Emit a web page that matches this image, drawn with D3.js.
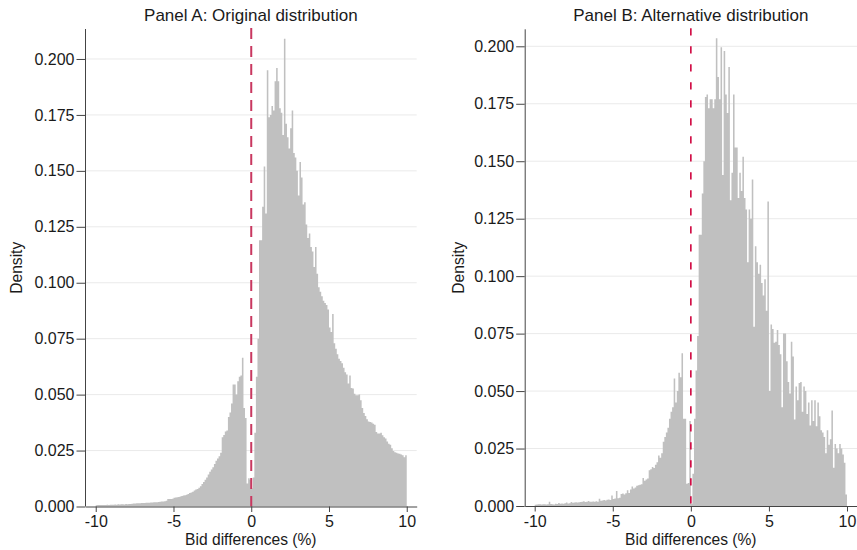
<!DOCTYPE html>
<html>
<head>
<meta charset="utf-8">
<script src="https://cdn.jsdelivr.net/npm/d3@7"></script>
<style>
  body { margin: 0; background: #fff; }
  svg { display: block; font-family: "Liberation Sans", Arial, Helvetica, sans-serif; }
</style>
</head>
<body>
<script>
// Histogram densities, bins of width 0.1 from -10 to 10 (200 bins each)
var densityA = [
  // -10 .. -0.1
  0.0006,0.0007,0.0007,0.0007,0.0007,0.0007,0.0007,0.0008,0.0007,0.0008,
  0.0008,0.0008,0.0009,0.0008,0.0010,0.0009,0.0010,0.0010,0.0009,0.0011,
  0.0010,0.0011,0.0011,0.0012,0.0013,0.0013,0.0014,0.0014,0.0015,0.0016,
  0.0016,0.0016,0.0017,0.0017,0.0017,0.0018,0.0018,0.0019,0.0019,0.0019,
  0.0020,0.0021,0.0022,0.0022,0.0024,0.0026,0.0034,0.0033,0.0033,0.0035,
  0.0039,0.0040,0.0041,0.0042,0.0045,0.0047,0.0049,0.0050,0.0052,0.0056,
  0.0060,0.0063,0.0066,0.0072,0.0076,0.0078,0.0084,0.0090,0.0100,0.0110,
  0.0120,0.0130,0.0143,0.0155,0.0165,0.0175,0.0190,0.0205,0.0215,0.0225,
  0.0240,0.0310,0.0320,0.0335,0.0340,0.0400,0.0420,0.0460,0.0545,0.0545,
  0.0500,0.0560,0.0580,0.0585,0.0665,0.0440,0.0395,0.0103,0.0126,0.0120,
  // 0 .. 9.9
  0.008,0.013,0.033,0.058,0.075,0.119,0.119,0.134,0.152,0.131,
  0.195,0.174,0.175,0.179,0.177,0.190,0.196,0.190,0.178,0.176,
  0.166,0.209,0.171,0.165,0.160,0.169,0.177,0.158,0.156,0.150,
  0.139,0.154,0.147,0.135,0.136,0.126,0.120,0.122,0.116,0.114,
  0.107,0.116,0.104,0.098,0.096,0.094,0.092,0.091,0.090,0.088,
  0.080,0.078,0.086,0.073,0.0705,0.068,0.066,0.065,0.064,0.062,
  0.060,0.059,0.055,0.0586,0.053,0.0527,0.0504,0.0497,0.0497,0.050,
  0.0475,0.044,0.0418,0.0405,0.039,0.038,0.0378,0.0375,0.037,0.0365,
  0.0333,0.0326,0.0326,0.033,0.0318,0.031,0.0304,0.029,0.028,0.0276,
  0.026,0.0248,0.0242,0.024,0.0237,0.0236,0.0232,0.0229,0.022,0.0229
];

var densityB = [
  // -10 .. -0.1
  0.0005,0.0007,0.0008,0.0008,0.0007,0.0008,0.0008,0.0007,0.0008,0.0018,
  0.0009,0.0008,0.0007,0.0010,0.0009,0.0013,0.0010,0.0011,0.0010,0.0012,
  0.0015,0.0011,0.0012,0.0017,0.0014,0.0015,0.0016,0.0015,0.0016,0.0017,
  0.0018,0.0021,0.0017,0.0019,0.0022,0.0018,0.0019,0.0020,0.0019,0.0021,
  0.0018,0.0032,0.0023,0.0024,0.0026,0.0024,0.0027,0.0028,0.0026,0.0046,
  0.0030,0.0033,0.0065,0.0034,0.0036,0.0052,0.0054,0.0050,0.0055,0.0068,
  0.0057,0.0072,0.0085,0.0076,0.0080,0.0088,0.0090,0.0092,0.0095,0.0122,
  0.0110,0.0115,0.0120,0.0155,0.0160,0.0170,0.0165,0.0180,0.0190,0.0220,
  0.0210,0.0230,0.0280,0.0300,0.0320,0.0340,0.0380,0.0410,0.0430,0.0555,
  0.0450,0.0500,0.0580,0.0560,0.0665,0.0380,0.0380,0.0097,0.0100,0.0370,
  // 0 .. 9.9
  0.001,0.014,0.038,0.059,0.074,0.118,0.118,0.136,0.150,0.178,
  0.179,0.173,0.177,0.177,0.173,0.177,0.2035,0.1866,0.177,0.1996,
  0.144,0.198,0.179,0.171,0.191,0.133,0.145,0.179,0.156,0.156,
  0.134,0.145,0.137,0.152,0.134,0.129,0.106,0.129,0.125,0.142,
  0.078,0.113,0.106,0.101,0.105,0.097,0.0916,0.0986,0.085,0.1325,
  0.050,0.079,0.077,0.071,0.0715,0.0766,0.070,0.066,0.043,0.075,
  0.075,0.063,0.054,0.049,0.0715,0.065,0.0376,0.052,0.046,0.0535,
  0.054,0.041,0.052,0.050,0.040,0.045,0.035,0.046,0.037,0.046,
  0.0347,0.045,0.039,0.033,0.032,0.030,0.023,0.033,0.0267,0.029,
  0.0416,0.0166,0.027,0.025,0.023,0.027,0.025,0.0224,0.0188,0.005
];

var xTicks = [-10, -5, 0, 5, 10];
var yTicks = [0, 0.025, 0.05, 0.075, 0.1, 0.125, 0.15, 0.175, 0.2];
var titles = ["Panel A: Original distribution", "Panel B: Alternative distribution"];
var xTitle = "Bid differences (%)";
var yTitle = "Density";
var binWidth = 0.1;

var svg = d3.select("body").append("svg")
    .attr("width", 857)
    .attr("height", 550);

// Draws one histogram panel
function drawPanel(p) {
    var x = d3.scaleLinear().domain(p.xDomain).range([p.left, p.right]);
    var y = d3.scaleLinear().domain([0, p.yMax]).range([p.bottom, p.top]);

    var g = svg.append("g");

    // gridlines
    g.selectAll("line.grid")
        .data(yTicks.slice(1))
        .enter().append("line")
        .attr("class", "grid")
        .attr("x1", p.left).attr("x2", p.right)
        .attr("y1", function(d) { return y(d); })
        .attr("y2", function(d) { return y(d); })
        .attr("stroke", "#eaeaea")
        .attr("stroke-width", 1);

    // bars: one step shape so neighbouring bins leave no seams
    var bins = p.data.map(function(v, i) { return { x0: -10 + i * binWidth, v: v }; });
    bins.push({ x0: 10, v: p.data[p.data.length - 1] });
    var area = d3.area()
        .curve(d3.curveStepAfter)
        .x(function(d) { return x(d.x0); })
        .y0(y(0))
        .y1(function(d) { return y(d.v); });
    g.append("path")
        .datum(bins)
        .attr("class", "bars")
        .attr("d", area)
        .attr("fill", "#c0c0c0");

    // dashed line at zero
    g.append("line")
        .attr("x1", x(0)).attr("x2", x(0))
        .attr("y1", p.top - 1).attr("y2", p.bottom)
        .attr("stroke", p.lineColor)
        .attr("stroke-width", p.lineWidth)
        .attr("stroke-dasharray", p.dash);

    // y axis
    var ya = g.append("g")
        .attr("transform", "translate(" + p.left + ",0)")
        .call(d3.axisLeft(y)
            .tickValues(yTicks)
            .tickFormat(d3.format(".3f"))
            .tickSize(8.5)
            .tickPadding(2)
            .tickSizeOuter(0));
    ya.select(".domain").attr("stroke", "#444").attr("d", "M0.5," + p.top + "V" + y(0));
    ya.selectAll(".tick line").attr("stroke", "#444");
    ya.selectAll("text").attr("font-size", "16px").attr("fill", "#1a1a1a")
        .attr("font-family", "'Liberation Sans', Arial, sans-serif");

    // x axis
    var xa = g.append("g")
        .attr("transform", "translate(0," + p.bottom + ")")
        .call(d3.axisBottom(x)
            .tickValues(xTicks)
            .tickFormat(d3.format("d"))
            .tickSize(5.5)
            .tickPadding(4)
            .tickSizeOuter(0));
    xa.select(".domain").attr("stroke", "#444");
    xa.selectAll(".tick line").attr("stroke", "#444");
    xa.selectAll("text").attr("font-size", "16px").attr("fill", "#1a1a1a")
        .attr("font-family", "'Liberation Sans', Arial, sans-serif")
        .text(function(d) { return d < 0 ? "-" + Math.abs(d) : d; });

    var cx = (p.left + p.right) / 2;

    // panel title
    g.append("text")
        .attr("x", cx).attr("y", 20.7)
        .attr("text-anchor", "middle")
        .attr("font-size", "17px")
        .attr("fill", "#1a1a1a")
        .text(p.title);

    // x title
    g.append("text")
        .attr("x", cx).attr("y", 545)
        .attr("text-anchor", "middle")
        .attr("font-size", "15.6px")
        .attr("fill", "#1a1a1a")
        .text(xTitle);

    // y title
    g.append("text")
        .attr("transform", "translate(" + p.yTitleX + "," + ((p.top + p.bottom) / 2) + ") rotate(-90)")
        .attr("text-anchor", "middle")
        .attr("font-size", "15.6px")
        .attr("fill", "#1a1a1a")
        .text(yTitle);
}

drawPanel({
    data: densityA, title: titles[0],
    left: 85, right: 416.7, top: 29, bottom: 506.5,
    xDomain: [-10.69, 10.64], yMax: 0.2134,
    lineColor: "#c93860", lineWidth: 2, dash: "11,7",
    yTitleX: 21.5
});

drawPanel({
    data: densityB, title: titles[1],
    left: 524.7, right: 857, top: 29.3, bottom: 506,
    xDomain: [-10.64, 10.64], yMax: 0.2074,
    lineColor: "#d0053f", lineWidth: 1.6, dash: "7.3,10.7",
    yTitleX: 463.5
});
</script>
</body>
</html>
